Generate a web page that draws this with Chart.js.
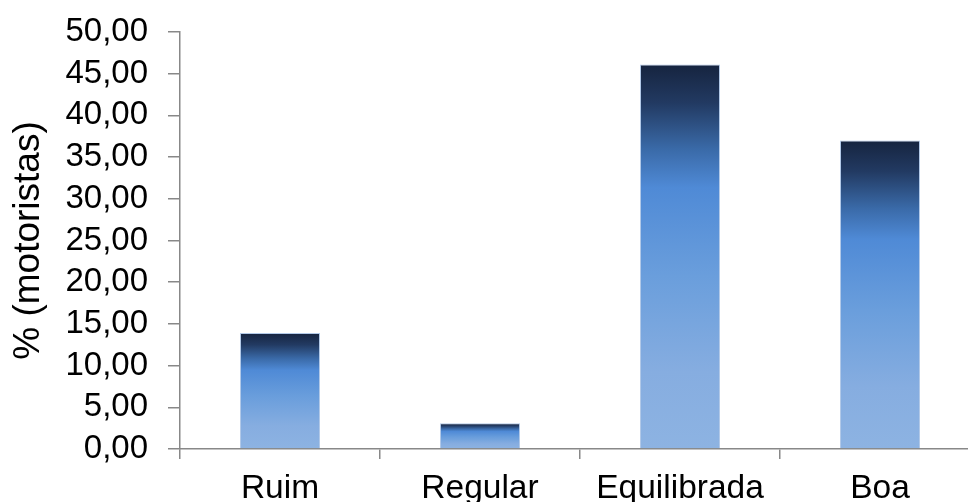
<!DOCTYPE html>
<html>
<head>
<meta charset="utf-8">
<script src="https://cdn.jsdelivr.net/npm/chart.js@4"></script>
<style>
html,body{margin:0;padding:0;background:#fff;overflow:hidden;}
#wrap{width:980px;height:502px;position:relative;}
</style>
</head>
<body>
<div id="wrap"><canvas id="c"></canvas></div>
<script>
const categories = ['Ruim', 'Regular', 'Equilibrada', 'Boa'];
const values = [13.9, 3.1, 46.1, 37.0];
const yTitle = '% (motoristas)';
const yMin = 0, yMax = 50, yStep = 5;

const FONT = "Arial, 'Liberation Sans', sans-serif";

function barGradient(ctx) {
  const chart = ctx.chart;
  const y = chart.scales && chart.scales.y;
  if (!chart.chartArea || !y || ctx.raw === undefined) return '#5b93da';
  const top = y.getPixelForValue(ctx.raw);
  const bottom = y.getPixelForValue(0);
  const g = chart.ctx.createLinearGradient(0, top, 0, bottom);
  g.addColorStop(0, '#16243f');
  g.addColorStop(0.1, '#223a62');
  g.addColorStop(0.22, '#3a6aa8');
  g.addColorStop(0.32, '#4f8ad6');
  g.addColorStop(0.55, '#6a9edc');
  g.addColorStop(0.8, '#86ade0');
  g.addColorStop(1, '#8db3e2');
  return g;
}

new Chart(document.getElementById('c'), {
  type: 'bar',
  data: {
    labels: categories,
    datasets: [{
      data: values,
      backgroundColor: barGradient,
      borderColor: 'rgba(170,195,230,0.9)',
      borderWidth: 1,
      barPercentage: 0.4,
      categoryPercentage: 1.0
    }]
  },
  options: {
    responsive: true,
    maintainAspectRatio: false,
    animation: false,
    layout: { padding: { top: 32, right: 0, bottom: 0, left: 0 } },
    plugins: { legend: { display: false }, tooltip: { enabled: false } },
    scales: {
      x: {
        offset: true,
        grid: { display: true, drawOnChartArea: false, drawTicks: true, tickLength: 10, offset: true, color: '#888', lineWidth: 1.5 },
        border: { display: true, color: '#888', width: 1.5 },
        ticks: { color: '#000', font: { family: FONT, size: 33.5 }, padding: 10, maxRotation: 0, autoSkip: false },
        afterFit: s => { s.height = 53; s.paddingLeft = 0; s.paddingRight = 0; }
      },
      y: {
        min: yMin, max: yMax,
        grid: { display: true, drawOnChartArea: false, drawTicks: true, tickLength: 12, color: '#888', lineWidth: 1.5 },
        border: { display: true, color: '#888', width: 1.5 },
        ticks: {
          stepSize: yStep,
          autoSkip: false,
          color: '#000',
          font: { family: FONT, size: 33 },
          padding: 20,
          callback: v => Number(v).toFixed(2).replace('.', ',')
        },
        title: { display: true, text: yTitle, color: '#000', font: { family: FONT, size: 37 }, padding: { top: 7, bottom: 0 } },
        afterFit: s => { s.width = 180; s.paddingTop = 0; s.paddingBottom = 0; }
      }
    }
  }
});
</script>
</body>
</html>
